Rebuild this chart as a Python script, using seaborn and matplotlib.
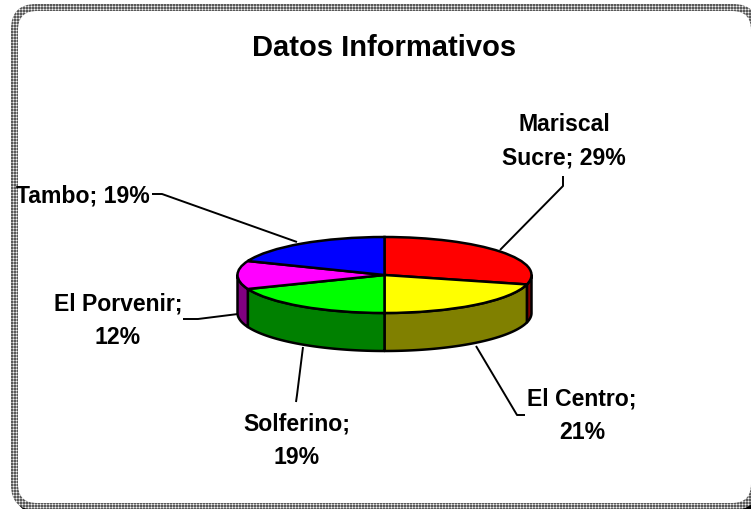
# -*- coding:utf-8 -*-
import numpy as np
import matplotlib
matplotlib.use("Agg")
import matplotlib.pyplot as plt
from matplotlib.patches import FancyBboxPatch
import seaborn as sns

title = "Datos Informativos"
barrios = ["Mariscal\nSucre", "El Centro", "Solferino", "El Porvenir", "Tambo"]
porcentajes = [29, 21, 19, 12, 19]
colores = ["#ff0000", "#ffff00", "#00ff00", "#ff00ff", "#0000ff"]
colores_lado = ["#800000", "#808000", "#008000", "#800080", "#000080"]
# label centre in pixels, wrapped or not
label_pos = [(564, 141), (582, 416), (297, 441), (118, 321), (83, 196)]
label_wrap = [False, True, True, True, False]
leaders = [[(563, 177), (563, 187), (500, 251)],
           [(525, 416), (517, 416), (476, 347)],
           [(296, 403), (297, 396), (303, 348)],
           [(183, 320), (198, 320), (238, 315)],
           [(152, 195), (162, 195), (297, 243)]]

W, H = 751, 510
CX, CY, RX, RY = 384.5, 276, 147, 38
DEPTH = 1.0

sns.set_theme(style="white")
plt.rcParams["font.family"] = ["Liberation Sans", "DejaVu Sans"]

fig = plt.figure(figsize=(W / 100, H / 100), dpi=100)
fig.patch.set_facecolor("white")

# background layer in pixel coords: frame, title, labels
bg = fig.add_axes([0, 0, 1, 1], zorder=0)
bg.set_axis_off()

tile = np.array([[0.35, 0.65, 0.35], [0.65, 0.95, 0.65], [0.35, 0.65, 0.35]])
textura = np.tile(tile, (H // 3 + 1, W // 3 + 1))[:H, :W]
sombra = FancyBboxPatch((15, 9), 747, 506, boxstyle="round,pad=0,rounding_size=25",
                        fc="black", ec="none", zorder=1)
bg.add_patch(sombra)
img = bg.imshow(textura, cmap="gray", vmin=0, vmax=1, interpolation="nearest",
                extent=(0, W, H, 0), zorder=2)
borde = FancyBboxPatch((11, 5), 747, 506, boxstyle="round,pad=0,rounding_size=25",
                       fc="none", ec="none", zorder=2)
bg.add_patch(borde)
img.set_clip_path(borde)
bg.add_patch(FancyBboxPatch((18, 12), 733, 492, boxstyle="round,pad=0,rounding_size=19",
                            fc="white", ec="none", zorder=3))
bg.set_aspect("auto")
bg.set_xlim(0, W)
bg.set_ylim(H, 0)

bg.text(384, 48, title, fontsize=21, fontweight="bold", color="black",
        ha="center", va="center", zorder=5)
for nombre, pct, pos, wrap, pts in zip(barrios, porcentajes, label_pos, label_wrap, leaders):
    sep = ";\n" if wrap else "; "
    bg.text(pos[0], pos[1], f"{nombre}{sep}{pct}%", fontsize=16.6, fontweight="bold",
            color="black", ha="center", va="center", linespacing=1.6, zorder=5)
    xs, ys = zip(*pts)
    bg.plot(xs, ys, color="black", linewidth=1.4, zorder=4, solid_capstyle="butt")

# pie layer, squashed so that radius 1 is an ellipse RX x RY pixels
ax = fig.add_axes([0, 0, 1, 1], zorder=1)
ax.pie(porcentajes, colors=colores, startangle=90, counterclock=False, radius=1,
       wedgeprops={"edgecolor": "black", "linewidth": 1.8, "zorder": 3})

# side wall, only the front half of the rim shows
limites = 90 - 3.6 * np.cumsum([0] + porcentajes)
for i, color in enumerate(colores_lado):
    t = np.radians(np.linspace(limites[i], limites[i + 1], 200))
    t = t[np.sin(t) <= 0]
    if len(t) == 0:
        continue
    xs = np.cos(t)
    ys = np.sin(t)
    ax.fill(np.r_[xs, xs[::-1]], np.r_[ys, ys[::-1] - DEPTH], facecolor=color,
            edgecolor="black", linewidth=1.8, zorder=2, joinstyle="round")

ax.set_aspect("auto")
ax.set_xlim(-CX / RX, (W - CX) / RX)
ax.set_ylim(-(H - CY) / RY, CY / RY)
ax.set_axis_off()
ax.patch.set_alpha(0)

fig.savefig("out.png", dpi=100)
